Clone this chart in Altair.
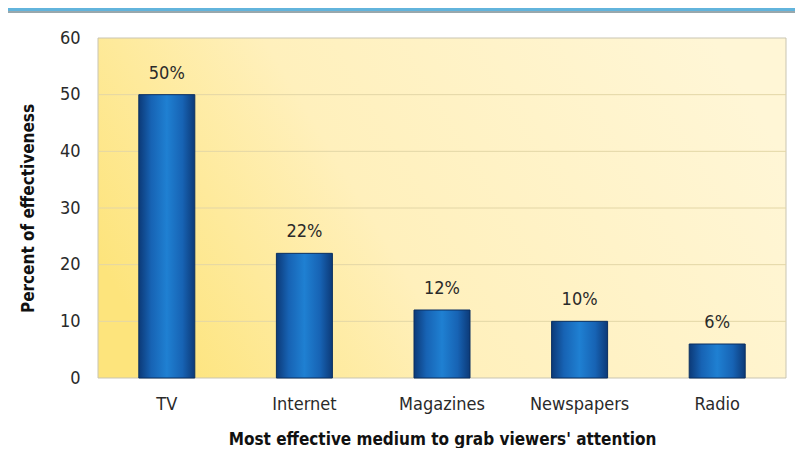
import altair as alt
import pandas as pd

media = ["TV", "Internet", "Magazines", "Newspapers", "Radio"]
percent = [50, 22, 12, 10, 6]
y_ticks = [0, 10, 20, 30, 40, 50, 60]

df = pd.DataFrame({"medium": media, "percent": percent})
grid_df = pd.DataFrame({"percent": y_ticks[1:-1]})

FONT = "Liberation Sans Narrow, DejaVu Sans Condensed, Roboto Condensed, sans-serif"

bar_fill = alt.Gradient(
    gradient="linear", x1=0, x2=1, y1=0, y2=0,
    stops=[
        alt.GradientStop(color="#0c3a78", offset=0),
        alt.GradientStop(color="#1763b4", offset=0.22),
        alt.GradientStop(color="#1f80d2", offset=0.5),
        alt.GradientStop(color="#1763b4", offset=0.78),
        alt.GradientStop(color="#0c3a78", offset=1),
    ],
)

bg_fill = alt.Gradient(
    gradient="linear", x1=0, x2=1, y1=0.65, y2=0.35,
    stops=[
        alt.GradientStop(color="#fde47c", offset=0),
        alt.GradientStop(color="#fff0bc", offset=0.4),
        alt.GradientStop(color="#fff6d6", offset=1),
    ],
)

W, H = 688, 340

background = alt.Chart(alt.Data(values=[{}])).mark_rect(
    fill=bg_fill, stroke="#c9c5b2", strokeWidth=1
).encode(
    x=alt.value(0), x2=alt.value(W), y=alt.value(0), y2=alt.value(H)
)

top_strip = alt.Chart(alt.Data(values=[{}])).mark_rect(
    fill="#62b4dc", clip=False
).encode(
    x=alt.value(-90), x2=alt.value(W + 9), y=alt.value(-30), y2=alt.value(-27)
)

top_line = alt.Chart(alt.Data(values=[{}])).mark_rule(
    color="#33505a", strokeWidth=1, clip=False
).encode(
    x=alt.value(-90), x2=alt.value(W + 9), y=alt.value(-26)
)

grid = alt.Chart(grid_df).mark_rule(color="#e3d6a6", strokeWidth=1).encode(
    y=alt.Y("percent:Q")
)

base = alt.Chart(df).encode(
    x=alt.X(
        "medium:N",
        sort=media,
        scale=alt.Scale(paddingInner=0, paddingOuter=0),
        axis=alt.Axis(
            title="Most effective medium to grab viewers' attention",
            labelAngle=0, ticks=False, domain=False, labelPadding=17,
            labelFont=FONT, labelFontSize=18, labelColor="#2a2a2a",
            titleFont=FONT, titleFontSize=17, titleFontWeight="bold",
            titleColor="#111", titlePadding=18,
        ),
    ),
    y=alt.Y(
        "percent:Q",
        scale=alt.Scale(domain=[0, 60]),
        axis=alt.Axis(
            title="Percent of effectiveness", values=y_ticks,
            ticks=False, domain=False, labelPadding=18, grid=False,
            labelFont=FONT, labelFontSize=18, labelColor="#2a2a2a",
            titleFont=FONT, titleFontSize=17, titleFontWeight="bold",
            titleColor="#111", titlePadding=22,
        ),
    ),
)

bars = base.mark_bar(width=56, fill=bar_fill, stroke="#0a2f60", strokeWidth=1)

labels = base.transform_calculate(
    label="datum.percent + '%'"
).mark_text(dy=-12, baseline="bottom", font=FONT, fontSize=18, color="#2a2a2a").encode(
    text="label:N"
)

chart = (
    alt.layer(background, top_strip, top_line, grid, bars, labels)
    .properties(
        width=W, height=H,
        autosize=alt.AutoSizeParams(type="none"),
        padding={"left": 90, "top": 30, "right": 9, "bottom": 70},
        background="white",
    )
    .configure_view(stroke=None)
)

chart.save("out.html", embed_options={"renderer": "svg", "actions": False})
